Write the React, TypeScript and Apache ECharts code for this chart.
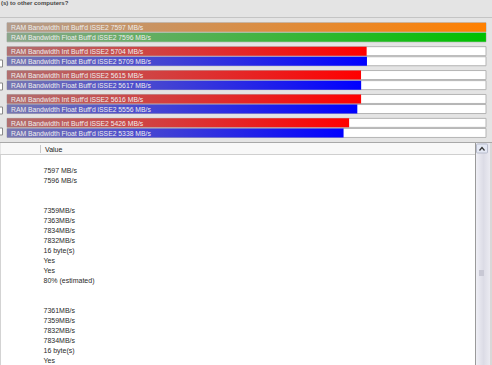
import React, { useEffect, useRef } from "react";
import * as echarts from "echarts";

const groups = ["G1", "G2", "G3", "G4", "G5"];
const intValues = [7597, 5704, 5615, 5616, 5426];
const floatValues = [7596, 5709, 5617, 5556, 5338];
const intLabel = "RAM Bandwidth Int Buff'd iSSE2";
const floatLabel = "RAM Bandwidth Float Buff'd iSSE2";
const unit = "MB/s";
const valueRows = [
  "7597 MB/s", "7596 MB/s", "", "",
  "7359MB/s", "7363MB/s", "7834MB/s", "7832MB/s", "16 byte(s)", "Yes", "Yes", "80% (estimated)", "", "",
  "7361MB/s", "7359MB/s", "7832MB/s", "7834MB/s", "16 byte(s)", "Yes",
];
const headerLabel = "Value";
const topText = "(s) to other computers?";

const FONT = "Liberation Sans, Arial, sans-serif";

function grad(a: string, b: string) {
  return new echarts.graphic.LinearGradient(0, 0, 1, 0, [
    { offset: 0, color: a },
    { offset: 1, color: b },
  ]);
}

export default function App() {
  const ref = useRef<HTMLDivElement>(null);
  useEffect(() => {
    document.body.style.margin = "0";
    const chart = echarts.init(ref.current!, null, { renderer: "svg" });
    const intColors = groups.map((_, i) => (i === 0 ? grad("#b29c8c", "#ff8000") : grad("#b07070", "#ff0000")));
    const floatColors = groups.map((_, i) => (i === 0 ? grad("#8ca68c", "#00c000") : grad("#7878b0", "#0000ff")));
    const maxV = Math.max(...intValues, ...floatValues);

    const graphics: any[] = [];
    graphics.push({
      type: "text", left: 1, top: 0, z: 10,
      style: { text: topText, font: `bold 6px ${FONT}`, fill: "#444" },
    });
    graphics.push({ type: "line", z: 1, shape: { x1: 0, y1: 17.5, x2: 492, y2: 17.5 }, style: { stroke: "#c4c4c4", lineWidth: 1 } });
    [60, 83, 107, 128].forEach((y) => {
      graphics.push({ type: "rect", z: 1, shape: { x: -1, y, width: 3.5, height: 7 }, style: { fill: "#fff", stroke: "#888", lineWidth: 1 } });
    });
    graphics.push({ type: "rect", z: 1, shape: { x: 0, y: 142.5, width: 492, height: 223 }, style: { fill: "#ffffff", stroke: "#a8a8a8", lineWidth: 1 } });
    graphics.push({ type: "rect", z: 2, shape: { x: 0.5, y: 143, width: 475, height: 11 }, style: { fill: "#f8f8f8" } });
    graphics.push({ type: "line", z: 3, shape: { x1: 0, y1: 154.5, x2: 475, y2: 154.5 }, style: { stroke: "#cfcfcf", lineWidth: 1 } });
    graphics.push({ type: "line", z: 3, shape: { x1: 40.5, y1: 145, x2: 40.5, y2: 153 }, style: { stroke: "#c8c8c8", lineWidth: 1 } });
    graphics.push({
      type: "text", z: 4, x: 45, y: 149,
      style: { text: headerLabel, font: `7px ${FONT}`, fill: "#222", verticalAlign: "middle" },
    });
    valueRows.forEach((t, i) => {
      if (!t) return;
      graphics.push({
        type: "text", z: 4, x: 43.5, y: 170 + i * 10,
        style: { text: t, font: `7px ${FONT}`, fill: "#2a2a2a", verticalAlign: "middle" },
      });
    });
    graphics.push({
      type: "rect", z: 3, shape: { x: 475.5, y: 143, width: 16, height: 222 },
      style: {
        fill: new echarts.graphic.LinearGradient(0, 0, 1, 0, [
          { offset: 0, color: "#f0f0f6" },
          { offset: 0.5, color: "#dcdce6" },
          { offset: 1, color: "#eeeef4" },
        ]),
      },
    });
    graphics.push({ type: "line", z: 4, shape: { x1: 475.5, y1: 143, x2: 475.5, y2: 365 }, style: { stroke: "#9a9a9a", lineWidth: 1 } });
    graphics.push({ type: "rect", z: 4, shape: { x: 490, y: 143, width: 2, height: 222 }, style: { fill: "#d8d8d8" } });
    graphics.push({ type: "rect", z: 5, shape: { x: 476.5, y: 144, width: 11, height: 9, r: 1 }, style: { fill: "#e4e8f4", stroke: "#b8bccc", lineWidth: 1 } });
    graphics.push({ type: "polyline", z: 6, shape: { points: [[479.5, 150.5], [482, 147.5], [484.5, 150.5]] }, style: { stroke: "#333", lineWidth: 1.2, fill: null } });
    graphics.push({ type: "rect", z: 5, shape: { x: 479, y: 270, width: 5, height: 6 }, style: { fill: "#c8c8d4" } });

    const labelCommon = {
      show: true, position: "insideLeft", offset: [-1, 0.5],
      color: "#eeeeee", fontSize: 6.8, fontFamily: FONT,
    };

    chart.setOption({
      animation: false,
      backgroundColor: "#e4e4e4",
      grid: { left: 7, right: 6, top: 20.35, height: 119.5, containLabel: false },
      xAxis: { type: "value", min: 0, max: maxV, show: false },
      yAxis: { type: "category", data: groups, inverse: true, show: false },
      graphic: graphics,
      series: [
        {
          type: "bar",
          name: "Int",
          barWidth: 9,
          barGap: "12%",
          showBackground: true,
          backgroundStyle: { color: "#ffffff", borderColor: "#b4b4b4", borderWidth: 1 },
          data: intValues.map((v, i) => ({ value: v, itemStyle: { color: intColors[i] } })),
          label: { ...labelCommon, formatter: (p: any) => `${intLabel} ${p.value} ${unit}` },
        },
        {
          type: "bar",
          name: "Float",
          barWidth: 9,
          barGap: "12%",
          showBackground: true,
          backgroundStyle: { color: "#ffffff", borderColor: "#b4b4b4", borderWidth: 1 },
          data: floatValues.map((v, i) => ({ value: v, itemStyle: { color: floatColors[i] } })),
          label: { ...labelCommon, formatter: (p: any) => `${floatLabel} ${p.value} ${unit}` },
        },
      ],
    });
    return () => chart.dispose();
  }, []);
  return <div ref={ref} style={{ width: 492, height: 365 }} />;
}
